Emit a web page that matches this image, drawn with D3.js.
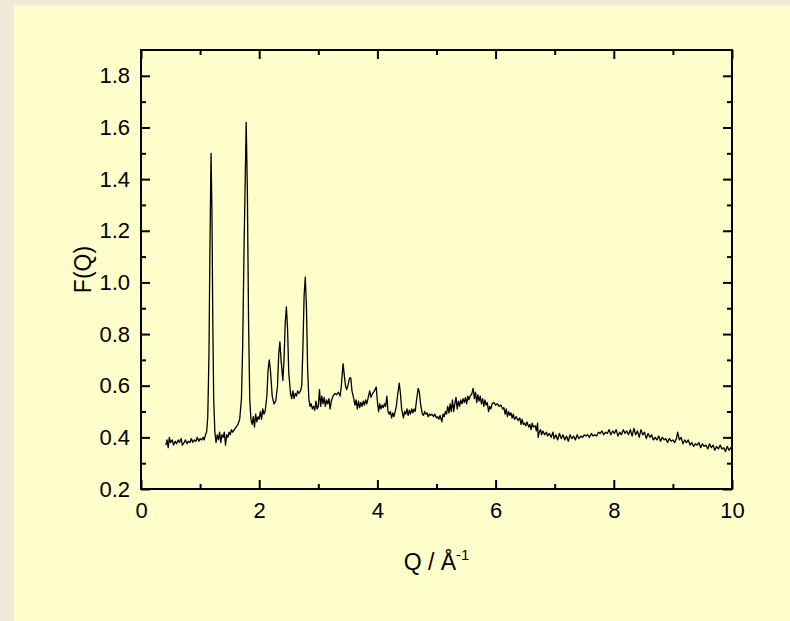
<!DOCTYPE html>
<html>
<head>
<meta charset="utf-8">
<script src="https://cdn.jsdelivr.net/npm/d3@7"></script>
<style>
  html, body { margin: 0; padding: 0; background: #f1e8d9; }
  svg { display: block; font-family: "Liberation Sans", Arial, sans-serif; }
</style>
</head>
<body>
<svg></svg>
<script>
// chart data

var xMajor = [0, 2, 4, 6, 8, 10]
var xMinor = [1, 3, 5, 7, 9]
var yMajor = [0.2, 0.4, 0.6, 0.8, 1.0, 1.2, 1.4, 1.6, 1.8]
var yMinor = [0.3, 0.5, 0.7, 0.9, 1.1, 1.3, 1.5, 1.7]

// [Q, F(Q)]
var fq = [
  [0.42, 0.37], [0.44, 0.39], [0.46, 0.36], [0.48, 0.40], [0.50, 0.38], [0.53, 0.39], [0.55, 0.37],
  [0.58, 0.385], [0.60, 0.375], [0.63, 0.39], [0.65, 0.38], [0.68, 0.395], [0.70, 0.37], [0.73, 0.38],
  [0.75, 0.39], [0.78, 0.375], [0.80, 0.385], [0.83, 0.38], [0.85, 0.395], [0.88, 0.38], [0.90, 0.39],
  [0.93, 0.385], [0.95, 0.40], [0.98, 0.385], [1.00, 0.395], [1.03, 0.39], [1.05, 0.40], [1.07, 0.39],
  [1.09, 0.41],
  [1.11, 0.42], [1.13, 0.48], [1.15, 0.72], [1.165, 1.10], [1.185, 1.50], [1.20, 1.28], [1.215, 0.85],
  [1.23, 0.55], [1.25, 0.42],
  [1.27, 0.38], [1.29, 0.41], [1.31, 0.39], [1.33, 0.42], [1.35, 0.38], [1.37, 0.41], [1.39, 0.40],
  [1.41, 0.42], [1.43, 0.37], [1.45, 0.41], [1.47, 0.40], [1.49, 0.42], [1.51, 0.41], [1.53, 0.43],
  [1.55, 0.42], [1.58, 0.43], [1.61, 0.44], [1.64, 0.45],
  [1.67, 0.47], [1.70, 0.55], [1.72, 0.75], [1.745, 1.15], [1.78, 1.62], [1.80, 1.35], [1.82, 0.85],
  [1.84, 0.55], [1.86, 0.47],
  [1.88, 0.45], [1.90, 0.48], [1.92, 0.44], [1.94, 0.49], [1.96, 0.46], [1.98, 0.48], [2.00, 0.47],
  [2.02, 0.50], [2.04, 0.47], [2.06, 0.51], [2.08, 0.49], [2.10, 0.50],
  [2.13, 0.56], [2.15, 0.66], [2.17, 0.70], [2.19, 0.66], [2.22, 0.56], [2.25, 0.53], [2.28, 0.54],
  [2.31, 0.60], [2.33, 0.72], [2.35, 0.77], [2.37, 0.70], [2.40, 0.62], [2.42, 0.70], [2.44, 0.84],
  [2.46, 0.905], [2.48, 0.82], [2.50, 0.65], [2.53, 0.57], [2.55, 0.55], [2.57, 0.58], [2.59, 0.55],
  [2.61, 0.57], [2.63, 0.56], [2.65, 0.58], [2.67, 0.57], [2.70, 0.58],
  [2.72, 0.60], [2.74, 0.75], [2.76, 0.95], [2.78, 1.02], [2.80, 0.90], [2.82, 0.66], [2.84, 0.55],
  [2.86, 0.52],
  [2.88, 0.53], [2.90, 0.51], [2.92, 0.52], [2.94, 0.505], [2.96, 0.54], [2.98, 0.51], [3.00, 0.52],
  [3.02, 0.585], [3.04, 0.52], [3.06, 0.56], [3.08, 0.53], [3.10, 0.555], [3.12, 0.52], [3.14, 0.545],
  [3.16, 0.53], [3.18, 0.55], [3.20, 0.51], [3.22, 0.54], [3.25, 0.56], [3.28, 0.57], [3.31, 0.565],
  [3.34, 0.575], [3.37, 0.56],
  [3.39, 0.60], [3.41, 0.66], [3.42, 0.685], [3.44, 0.64], [3.46, 0.60], [3.48, 0.585], [3.50, 0.60],
  [3.53, 0.63], [3.55, 0.63], [3.57, 0.58], [3.60, 0.55], [3.62, 0.525], [3.64, 0.545], [3.66, 0.51],
  [3.68, 0.54], [3.70, 0.515], [3.72, 0.535], [3.74, 0.52], [3.76, 0.54], [3.78, 0.525], [3.80, 0.545],
  [3.82, 0.53], [3.85, 0.56], [3.87, 0.58], [3.89, 0.555], [3.92, 0.57], [3.95, 0.58], [3.98, 0.595],
  [4.00, 0.54], [4.02, 0.50], [4.04, 0.53], [4.06, 0.51], [4.08, 0.525], [4.10, 0.515], [4.12, 0.53],
  [4.14, 0.52], [4.16, 0.56], [4.18, 0.50], [4.20, 0.49], [4.22, 0.50], [4.24, 0.475], [4.26, 0.495],
  [4.28, 0.48], [4.30, 0.50], [4.32, 0.52],
  [4.34, 0.56], [4.37, 0.61], [4.39, 0.57], [4.41, 0.51], [4.44, 0.475], [4.46, 0.50], [4.48, 0.49],
  [4.50, 0.51], [4.52, 0.485], [4.54, 0.505], [4.56, 0.49], [4.58, 0.51], [4.60, 0.495], [4.62, 0.51],
  [4.64, 0.50], [4.66, 0.54], [4.69, 0.59], [4.71, 0.575], [4.73, 0.53], [4.76, 0.49], [4.78, 0.485],
  [4.80, 0.50], [4.82, 0.49], [4.84, 0.495], [4.86, 0.48], [4.88, 0.49], [4.90, 0.485], [4.92, 0.49],
  [4.95, 0.48], [4.97, 0.49], [5.00, 0.475], [5.02, 0.48], [5.04, 0.47], [5.06, 0.485], [5.09, 0.46],
  [5.11, 0.49], [5.13, 0.48], [5.15, 0.50], [5.17, 0.49], [5.19, 0.52], [5.21, 0.495], [5.23, 0.53],
  [5.25, 0.50], [5.27, 0.545], [5.29, 0.50], [5.31, 0.53], [5.33, 0.555], [5.35, 0.51], [5.37, 0.54],
  [5.39, 0.52], [5.41, 0.545], [5.43, 0.53], [5.45, 0.55], [5.47, 0.535], [5.49, 0.555], [5.51, 0.53],
  [5.53, 0.56], [5.55, 0.545], [5.57, 0.56], [5.60, 0.57], [5.62, 0.59], [5.64, 0.55], [5.66, 0.575],
  [5.68, 0.535], [5.70, 0.565], [5.72, 0.54], [5.74, 0.56], [5.76, 0.53], [5.78, 0.55], [5.80, 0.52],
  [5.82, 0.545], [5.84, 0.525], [5.86, 0.535], [5.88, 0.50], [5.90, 0.52], [5.92, 0.51], [5.94, 0.53],
  [5.97, 0.535], [6.00, 0.525], [6.03, 0.53], [6.06, 0.52], [6.09, 0.525], [6.12, 0.51], [6.14, 0.515],
  [6.16, 0.49], [6.18, 0.51], [6.20, 0.48], [6.22, 0.50], [6.24, 0.485], [6.26, 0.495], [6.28, 0.475],
  [6.30, 0.49], [6.32, 0.47], [6.35, 0.48], [6.38, 0.465], [6.41, 0.475], [6.43, 0.45], [6.45, 0.47],
  [6.47, 0.45], [6.49, 0.455], [6.51, 0.445], [6.53, 0.46], [6.56, 0.44], [6.58, 0.45], [6.60, 0.43],
  [6.62, 0.455], [6.64, 0.44], [6.67, 0.445], [6.69, 0.425], [6.71, 0.455], [6.72, 0.40], [6.74, 0.42],
  [6.76, 0.43], [6.78, 0.41], [6.80, 0.425],
  [6.83, 0.41], [6.86, 0.42], [6.88, 0.405], [6.91, 0.415], [6.94, 0.40], [6.97, 0.42], [6.99, 0.395],
  [7.02, 0.41], [7.05, 0.39], [7.08, 0.415], [7.11, 0.395], [7.14, 0.41], [7.17, 0.39], [7.20, 0.405],
  [7.23, 0.385], [7.26, 0.41], [7.29, 0.395], [7.32, 0.405], [7.35, 0.39], [7.38, 0.41], [7.41, 0.395],
  [7.44, 0.405], [7.47, 0.40], [7.50, 0.41], [7.53, 0.405], [7.56, 0.41], [7.59, 0.40], [7.62, 0.415],
  [7.65, 0.405], [7.68, 0.41], [7.71, 0.405], [7.74, 0.42], [7.77, 0.415], [7.80, 0.425], [7.83, 0.41],
  [7.86, 0.42], [7.89, 0.415], [7.92, 0.43], [7.95, 0.41], [7.98, 0.425], [8.01, 0.415], [8.04, 0.43],
  [8.07, 0.405], [8.10, 0.42], [8.13, 0.41], [8.16, 0.43], [8.19, 0.415], [8.22, 0.425], [8.25, 0.41],
  [8.28, 0.43], [8.31, 0.405], [8.34, 0.435], [8.37, 0.41], [8.40, 0.425], [8.43, 0.40], [8.46, 0.43],
  [8.49, 0.41], [8.52, 0.42], [8.55, 0.395], [8.58, 0.415], [8.61, 0.40], [8.64, 0.41], [8.67, 0.39],
  [8.70, 0.40], [8.73, 0.39], [8.76, 0.405], [8.79, 0.385], [8.82, 0.40], [8.85, 0.39], [8.88, 0.395],
  [8.91, 0.38], [8.94, 0.395], [8.97, 0.385], [9.00, 0.39], [9.03, 0.38], [9.06, 0.395], [9.08, 0.42],
  [9.11, 0.39], [9.14, 0.40], [9.17, 0.375], [9.20, 0.39], [9.23, 0.38], [9.26, 0.39], [9.29, 0.37],
  [9.32, 0.38], [9.35, 0.365], [9.38, 0.375], [9.41, 0.37], [9.44, 0.38], [9.47, 0.36], [9.50, 0.375],
  [9.53, 0.365], [9.56, 0.37], [9.59, 0.355], [9.62, 0.375], [9.65, 0.36], [9.68, 0.37], [9.71, 0.35],
  [9.74, 0.365], [9.77, 0.355], [9.80, 0.37], [9.83, 0.355], [9.86, 0.36], [9.89, 0.345], [9.92, 0.365],
  [9.95, 0.35], [9.98, 0.36], [10.0, 0.355]
]

// -----------------

var w = 790
var h = 621

var svg = d3.select('svg')
    .attr('width', w)
    .attr('height', h)

// beige page with the yellow panel on top
svg.append('rect')
  .attr('width', w).attr('height', h)
  .attr('fill', '#f1e8d9')
svg.append('rect')
  .attr('x', 14).attr('y', 5)
  .attr('width', w - 14).attr('height', h - 5)
  .attr('fill', '#ffffcc')

// plot box (avoid the name "top", it is window.top)
var pL = 141, pR = 732, pT = 50, pB = 489

var x = d3.scaleLinear().domain([0, 10]).range([pL, pR])
var y = d3.scaleLinear().domain([0.2, 1.9]).range([pB, pT])

function styleAxis (g) {
  g.select('.domain').remove()
  g.selectAll('.tick line').attr('stroke', '#000').attr('stroke-width', 2)
  g.selectAll('.tick text')
    .attr('fill', '#000')
    .style('font-size', '22px')
    .style('font-family', '"Liberation Sans", Arial, sans-serif')
}

var fmtX = d3.format('d')
var fmtY = d3.format('.1f')

// bottom
svg.append('g').attr('transform', 'translate(0,' + pB + ')')
  .call(d3.axisBottom(x).tickValues(xMajor).tickSize(-9).tickPadding(13).tickFormat(fmtX))
  .call(styleAxis)
svg.append('g').attr('transform', 'translate(0,' + pB + ')')
  .call(d3.axisBottom(x).tickValues(xMinor).tickSize(-5).tickFormat(''))
  .call(styleAxis)
// top
svg.append('g').attr('transform', 'translate(0,' + pT + ')')
  .call(d3.axisTop(x).tickValues(xMajor).tickSize(-9).tickFormat(''))
  .call(styleAxis)
svg.append('g').attr('transform', 'translate(0,' + pT + ')')
  .call(d3.axisTop(x).tickValues(xMinor).tickSize(-5).tickFormat(''))
  .call(styleAxis)
// left
svg.append('g').attr('transform', 'translate(' + pL + ',0)')
  .call(d3.axisLeft(y).tickValues(yMajor).tickSize(-9).tickPadding(11).tickFormat(fmtY))
  .call(styleAxis)
svg.append('g').attr('transform', 'translate(' + pL + ',0)')
  .call(d3.axisLeft(y).tickValues(yMinor).tickSize(-5).tickFormat(''))
  .call(styleAxis)
// right
svg.append('g').attr('transform', 'translate(' + pR + ',0)')
  .call(d3.axisRight(y).tickValues(yMajor).tickSize(-9).tickFormat(''))
  .call(styleAxis)
svg.append('g').attr('transform', 'translate(' + pR + ',0)')
  .call(d3.axisRight(y).tickValues(yMinor).tickSize(-5).tickFormat(''))
  .call(styleAxis)

// frame
svg.append('rect')
  .attr('x', pL).attr('y', pT)
  .attr('width', pR - pL).attr('height', pB - pT)
  .attr('fill', 'none')
  .attr('stroke', '#000')
  .attr('stroke-width', 2)

// the curve
var line = d3.line()
  .x(function (d) { return x(d[0]) })
  .y(function (d) { return y(d[1]) })

svg.append('path')
  .datum(fq)
  .attr('d', line)
  .attr('fill', 'none')
  .attr('stroke', '#000')
  .attr('stroke-width', 1.3)
  .attr('stroke-linejoin', 'round')

// axis titles
var xt = svg.append('text')
  .attr('x', (pL + pR) / 2)
  .attr('y', 570)
  .attr('text-anchor', 'middle')
  .style('font-size', '23px')
xt.append('tspan').text('Q / Å')
xt.append('tspan').text('-1').attr('dy', -10).style('font-size', '15px')

svg.append('text')
  .attr('transform', 'translate(91,' + (pT + pB) / 2 + ') rotate(-90)')
  .attr('text-anchor', 'middle')
  .style('font-size', '23px')
  .text('F(Q)')
</script>
</body>
</html>
